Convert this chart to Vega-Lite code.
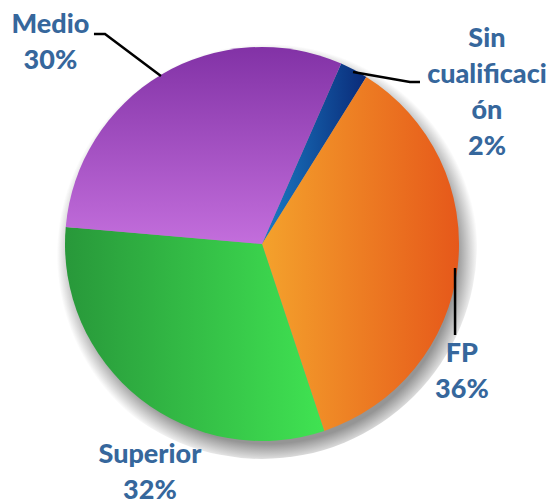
{
  "$schema": "https://vega.github.io/schema/vega-lite/v6.json",
  "width": 524,
  "height": 488,
  "padding": {"left": 0, "top": 0, "right": 25, "bottom": 11},
  "autosize": {"type": "none"},
  "config": {"view": {"stroke": null}},
  "datasets": {
    "slices": [
      {"category": "Sin cualificación", "orden": 1, "value": 2.3},
      {"category": "FP", "orden": 2, "value": 36.0},
      {"category": "Superior", "orden": 3, "value": 31.5},
      {"category": "Medio", "orden": 4, "value": 30.2}
    ],
    "labels": [
      {"category": "Medio", "label": "Medio\n30%", "x": -1.074, "y": 1.071},
      {"category": "Sin cualificación", "label": "Sin\ncualificaci\nón\n2%", "x": 1.142, "y": 1.0},
      {"category": "FP", "label": "FP\n36%", "x": 1.015, "y": -0.599},
      {"category": "Superior", "label": "Superior\n32%", "x": -0.569, "y": -1.112}
    ],
    "leaders": [
      {"line": "Medio", "seq": 1, "x": -0.853, "y": 1.066},
      {"line": "Medio", "seq": 2, "x": -0.797, "y": 1.066},
      {"line": "Medio", "seq": 3, "x": -0.513, "y": 0.853},
      {"line": "Sin", "seq": 1, "x": 0.462, "y": 0.873},
      {"line": "Sin", "seq": 2, "x": 0.751, "y": 0.822},
      {"line": "Sin", "seq": 3, "x": 0.802, "y": 0.822},
      {"line": "FP", "seq": 1, "x": 0.980, "y": -0.122},
      {"line": "FP", "seq": 2, "x": 0.980, "y": -0.462}
    ]
  },
  "layer": [
    {
      "data": {"values": [{"shadow": 1}]},
      "mark": {
        "type": "arc",
        "theta": 0,
        "theta2": 6.2832,
        "outerRadius": 215,
        "strokeWidth": 0,
        "fill": {
          "gradient": "radial",
          "x1": 0.513, "y1": 0.525, "r1": 0.44,
          "x2": 0.513, "y2": 0.525, "r2": 0.49,
          "stops": [
            {"offset": 0, "color": "#959595"},
            {"offset": 1, "color": "#ffffff"}
          ]
        }
      },
      "encoding": {}
    },
    {
      "data": {"name": "slices"},
      "mark": {"type": "arc", "outerRadius": 197, "strokeWidth": 0},
      "encoding": {
        "theta": {
          "field": "value",
          "type": "quantitative",
          "stack": true,
          "scale": {"range": [0.4136, 6.6968]}
        },
        "order": {"field": "orden", "type": "quantitative"},
        "detail": {"field": "category", "type": "nominal"},
        "color": {
          "condition": [
            {
              "test": "datum.category === 'FP'",
              "value": {
                "gradient": "linear", "x1": 0, "y1": 0.5, "x2": 1, "y2": 0.5,
                "stops": [
                  {"offset": 0, "color": "#F4A22C"},
                  {"offset": 1, "color": "#E6581A"}
                ]
              }
            },
            {
              "test": "datum.category === 'Superior'",
              "value": {
                "gradient": "linear", "x1": 0, "y1": 0.5, "x2": 1, "y2": 0.5,
                "stops": [
                  {"offset": 0, "color": "#28983A"},
                  {"offset": 1, "color": "#40E352"}
                ]
              }
            },
            {
              "test": "datum.category === 'Medio'",
              "value": {
                "gradient": "linear", "x1": 0.5, "y1": 0, "x2": 0.5, "y2": 1,
                "stops": [
                  {"offset": 0, "color": "#8232A6"},
                  {"offset": 1, "color": "#C36EDC"}
                ]
              }
            }
          ],
          "value": {
            "gradient": "linear", "x1": 0, "y1": 0.5, "x2": 1, "y2": 0.5,
            "stops": [
              {"offset": 0, "color": "#1A7CC6"},
              {"offset": 1, "color": "#0A2A78"}
            ]
          }
        }
      }
    },
    {
      "data": {"name": "leaders"},
      "mark": {"type": "line", "color": "#000000", "strokeWidth": 2.5},
      "encoding": {
        "x": {"field": "x", "type": "quantitative", "scale": {"domain": [-1.33, 1.33]}, "axis": null},
        "y": {"field": "y", "type": "quantitative", "scale": {"domain": [-1.2386, 1.2386]}, "axis": null},
        "detail": {"field": "line", "type": "nominal"},
        "order": {"field": "seq", "type": "quantitative"}
      }
    },
    {
      "data": {"name": "labels"},
      "mark": {
        "type": "text",
        "font": "Lato",
        "fontWeight": 900,
        "fontSize": 27,
        "lineHeight": 36,
        "lineBreak": "\n",
        "align": "center",
        "baseline": "alphabetic",
        "color": "#36679C"
      },
      "encoding": {
        "x": {"field": "x", "type": "quantitative", "scale": {"domain": [-1.33, 1.33]}, "axis": null},
        "y": {"field": "y", "type": "quantitative", "scale": {"domain": [-1.2386, 1.2386]}, "axis": null},
        "text": {"field": "label", "type": "nominal"}
      }
    }
  ]
}
